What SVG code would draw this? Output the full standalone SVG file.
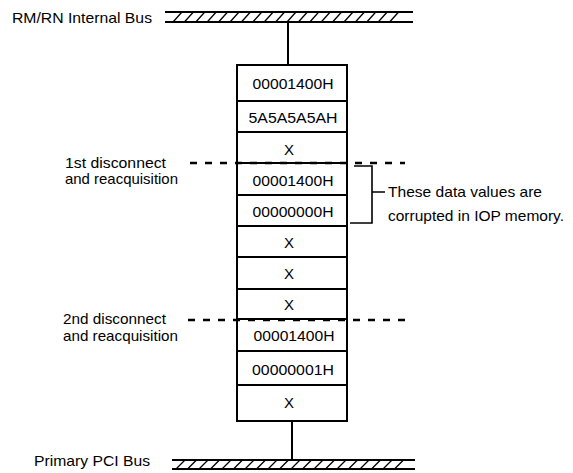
<svg xmlns="http://www.w3.org/2000/svg" width="573" height="473" viewBox="0 0 573 473">
<style>
  text { font-family: "Liberation Sans", Arial, sans-serif; font-size: 15px; fill: #000; }
  .c { text-anchor: middle; }
  .cell { fill: #fff; stroke: #000; stroke-width: 2; }
  .bus { stroke: #000; stroke-width: 2; fill: none; }
  .hatch { stroke: #000; stroke-width: 1.3; fill: none; }
  .conn { stroke: #000; stroke-width: 2; fill: none; }
  .dash { stroke: #000; stroke-width: 2.5; stroke-dasharray: 7 8; fill: none; }
  .br { stroke: #000; stroke-width: 1.6; fill: none; }
</style>
<rect width="573" height="473" fill="#fff"/>

<g id="bus-internal">
  <path class="bus" d="M165 12H413M165 22H413"/>
  <path class="hatch" d="M173 22l9 -10M184.4 22l9 -10M195.8 22l9 -10M207.2 22l9 -10M218.6 22l9 -10M230 22l9 -10M241.4 22l9 -10M252.8 22l9 -10M264.2 22l9 -10M275.6 22l9 -10M287 22l9 -10M298.4 22l9 -10M309.8 22l9 -10M321.2 22l9 -10M332.6 22l9 -10M344 22l9 -10M355.4 22l9 -10M366.8 22l9 -10M378.2 22l9 -10M389.6 22l9 -10"/>
  <text x="12" y="23" textLength="140" lengthAdjust="spacingAndGlyphs">RM/RN Internal Bus</text>
</g>

<g id="bus-pci">
  <path class="bus" d="M172 460H415M172 469H415"/>
  <path class="hatch" d="M176 469l9 -9M187.5 469l9 -9M199 469l9 -9M210.5 469l9 -9M222 469l9 -9M233.5 469l9 -9M245 469l9 -9M256.5 469l9 -9M268 469l9 -9M279.5 469l9 -9M291 469l9 -9M302.5 469l9 -9M314 469l9 -9M325.5 469l9 -9M337 469l9 -9M348.5 469l9 -9M360 469l9 -9M371.5 469l9 -9M383 469l9 -9M394.5 469l9 -9"/>
  <text x="34" y="466" textLength="116" lengthAdjust="spacingAndGlyphs">Primary PCI Bus</text>
</g>

<g id="connectors">
  <path class="conn" d="M288 22V65"/>
  <path class="conn" d="M292 421V460"/>
</g>

<g id="memory">
  <g id="cell1"><rect class="cell" x="237" y="65" width="110" height="36"/><text class="c" x="293" y="89" textLength="81" lengthAdjust="spacingAndGlyphs">00001400H</text></g>
  <g id="cell2"><rect class="cell" x="237" y="101" width="110" height="31"/><text class="c" x="293" y="122.5" textLength="89" lengthAdjust="spacingAndGlyphs">5A5A5A5AH</text></g>
  <g id="cell3"><rect class="cell" x="237" y="132" width="110" height="31"/><text class="c" x="289" y="155">X</text></g>
  <g id="cell4"><rect class="cell" x="237" y="163" width="110" height="32"/><text class="c" x="293" y="186" textLength="81" lengthAdjust="spacingAndGlyphs">00001400H</text></g>
  <g id="cell5"><rect class="cell" x="237" y="195" width="110" height="31"/><text class="c" x="293" y="216.5" textLength="81" lengthAdjust="spacingAndGlyphs">00000000H</text></g>
  <g id="cell6"><rect class="cell" x="237" y="226" width="110" height="31"/><text class="c" x="289" y="248">X</text></g>
  <g id="cell7"><rect class="cell" x="237" y="257" width="110" height="32"/><text class="c" x="289" y="279">X</text></g>
  <g id="cell8"><rect class="cell" x="237" y="289" width="110" height="30"/><text class="c" x="289" y="310">X</text></g>
  <g id="cell9"><rect class="cell" x="237" y="319" width="110" height="32"/><text class="c" x="294" y="340.5" textLength="81" lengthAdjust="spacingAndGlyphs">00001400H</text></g>
  <g id="cell10"><rect class="cell" x="237" y="351" width="110" height="34"/><text class="c" x="293" y="375" textLength="82" lengthAdjust="spacingAndGlyphs">00000001H</text></g>
  <g id="cell11"><rect class="cell" x="237" y="385" width="110" height="36"/><text class="c" x="289" y="408">X</text></g>
</g>

<g id="disconnect1">
  <path class="dash" d="M190 163H405"/>
  <text x="65" y="168" textLength="101" lengthAdjust="spacingAndGlyphs">1st disconnect</text>
  <text x="65" y="184" textLength="113" lengthAdjust="spacingAndGlyphs">and reacquisition</text>
</g>

<g id="disconnect2">
  <path class="dash" d="M188 320H407"/>
  <text x="63" y="324" textLength="103" lengthAdjust="spacingAndGlyphs">2nd disconnect</text>
  <text x="63" y="341" textLength="115" lengthAdjust="spacingAndGlyphs">and reacquisition</text>
</g>

<g id="note">
  <path class="br" d="M354 166H372V223H350M372 192H385"/>
  <text x="388" y="197" textLength="154" lengthAdjust="spacingAndGlyphs">These data values are</text>
  <text x="388" y="221" textLength="176" lengthAdjust="spacingAndGlyphs">corrupted in IOP memory.</text>
</g>
</svg>
